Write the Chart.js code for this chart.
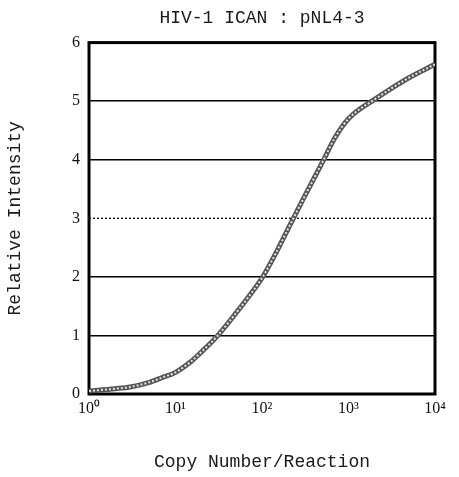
<!DOCTYPE html>
<html>
<head>
<meta charset="utf-8">
<script src="https://cdn.jsdelivr.net/npm/chart.js@4/dist/chart.umd.min.js"></script>
<style>
  body { margin: 0; background: #fff; }
</style>
</head>
<body>
<canvas id="ican" width="459" height="477"></canvas>
<script>
// values
const copies = [1, 2, 3, 5, 7, 10, 15, 20, 30, 50, 70, 100, 150, 200, 300, 500, 700, 1000, 2000, 3000, 5000, 10000];
const intensity = [0.05, 0.09, 0.12, 0.2, 0.28, 0.37, 0.55, 0.72, 0.98, 1.38, 1.66, 1.98, 2.45, 2.82, 3.33, 3.96, 4.38, 4.7, 5.03, 5.2, 5.4, 5.63];
const xTicks = [1, 10, 100, 1000, 10000];
const xTickLabels = ["10⁰", "10¹", "10²", "10³", "10⁴"];
const dottedLevel = 3;

const curvePoints = copies.map((c, i) => ({ x: c, y: intensity[i] }));

// thick frame round the plot area
const framePlugin = {
  id: "frame",
  beforeDatasetsDraw(chart) {
    const { ctx, chartArea: a } = chart;
    ctx.save();
    ctx.strokeStyle = "#000";
    ctx.lineWidth = 3;
    ctx.strokeRect(a.left, a.top, a.right - a.left, a.bottom - a.top);
    ctx.restore();
  }
};

const monoFont = { family: "'Liberation Mono', monospace", size: 18, weight: "normal" };
const serifFont = { family: "'Liberation Serif', serif", size: 16 };

new Chart(document.getElementById("ican"), {
  type: "line",
  data: {
    datasets: [
      {
        data: curvePoints,
        borderColor: "#e4e4e4",
        borderWidth: 2,
        borderDash: [2, 2],
        pointRadius: 0,
        cubicInterpolationMode: "monotone",
        order: 1
      },
      {
        data: curvePoints,
        borderColor: "#555",
        borderWidth: 5,
        pointRadius: 0,
        cubicInterpolationMode: "monotone",
        order: 2
      },
      {
        data: [{ x: xTicks[0], y: dottedLevel }, { x: xTicks[xTicks.length - 1], y: dottedLevel }],
        borderColor: "#000",
        borderWidth: 1.3,
        borderDash: [2, 2],
        pointRadius: 0,
        order: 3
      }
    ]
  },
  options: {
    responsive: false,
    animation: false,
    layout: { padding: { left: 0, right: 24, top: 0, bottom: 0 } },
    plugins: {
      legend: { display: false },
      tooltip: { enabled: false },
      title: {
        display: true,
        fullSize: false,
        text: "HIV-1 ICAN : pNL4-3",
        color: "#1a1a1a",
        font: monoFont,
        padding: { top: 7, bottom: 14 }
      }
    },
    scales: {
      x: {
        type: "logarithmic",
        min: 1,
        max: 10000,
        afterBuildTicks: s => { s.ticks = xTicks.map(v => ({ value: v })); },
        afterFit: s => { s.height = 83; },
        grid: { display: false, drawTicks: false, tickLength: 0 },
        border: { display: false },
        ticks: {
          color: "#111",
          font: serifFont,
          padding: 5,
          maxRotation: 0,
          autoSkip: false,
          callback: v => xTickLabels[xTicks.indexOf(v)] ?? ""
        },
        title: {
          display: true,
          text: "Copy Number/Reaction",
          color: "#1a1a1a",
          font: monoFont
        }
      },
      y: {
        min: 0,
        max: 6,
        afterFit: s => { s.width = 89; },
        border: { display: false },
        grid: {
          drawTicks: false,
          color: c => (c.tick && c.tick.value === dottedLevel ? "rgba(0,0,0,0)" : "#000"),
          lineWidth: 1.6
        },
        ticks: {
          stepSize: 1,
          color: "#111",
          font: serifFont,
          padding: 9
        },
        title: {
          display: true,
          text: "Relative Intensity",
          color: "#1a1a1a",
          font: monoFont
        }
      }
    }
  },
  plugins: [framePlugin]
});
</script>
</body>
</html>
